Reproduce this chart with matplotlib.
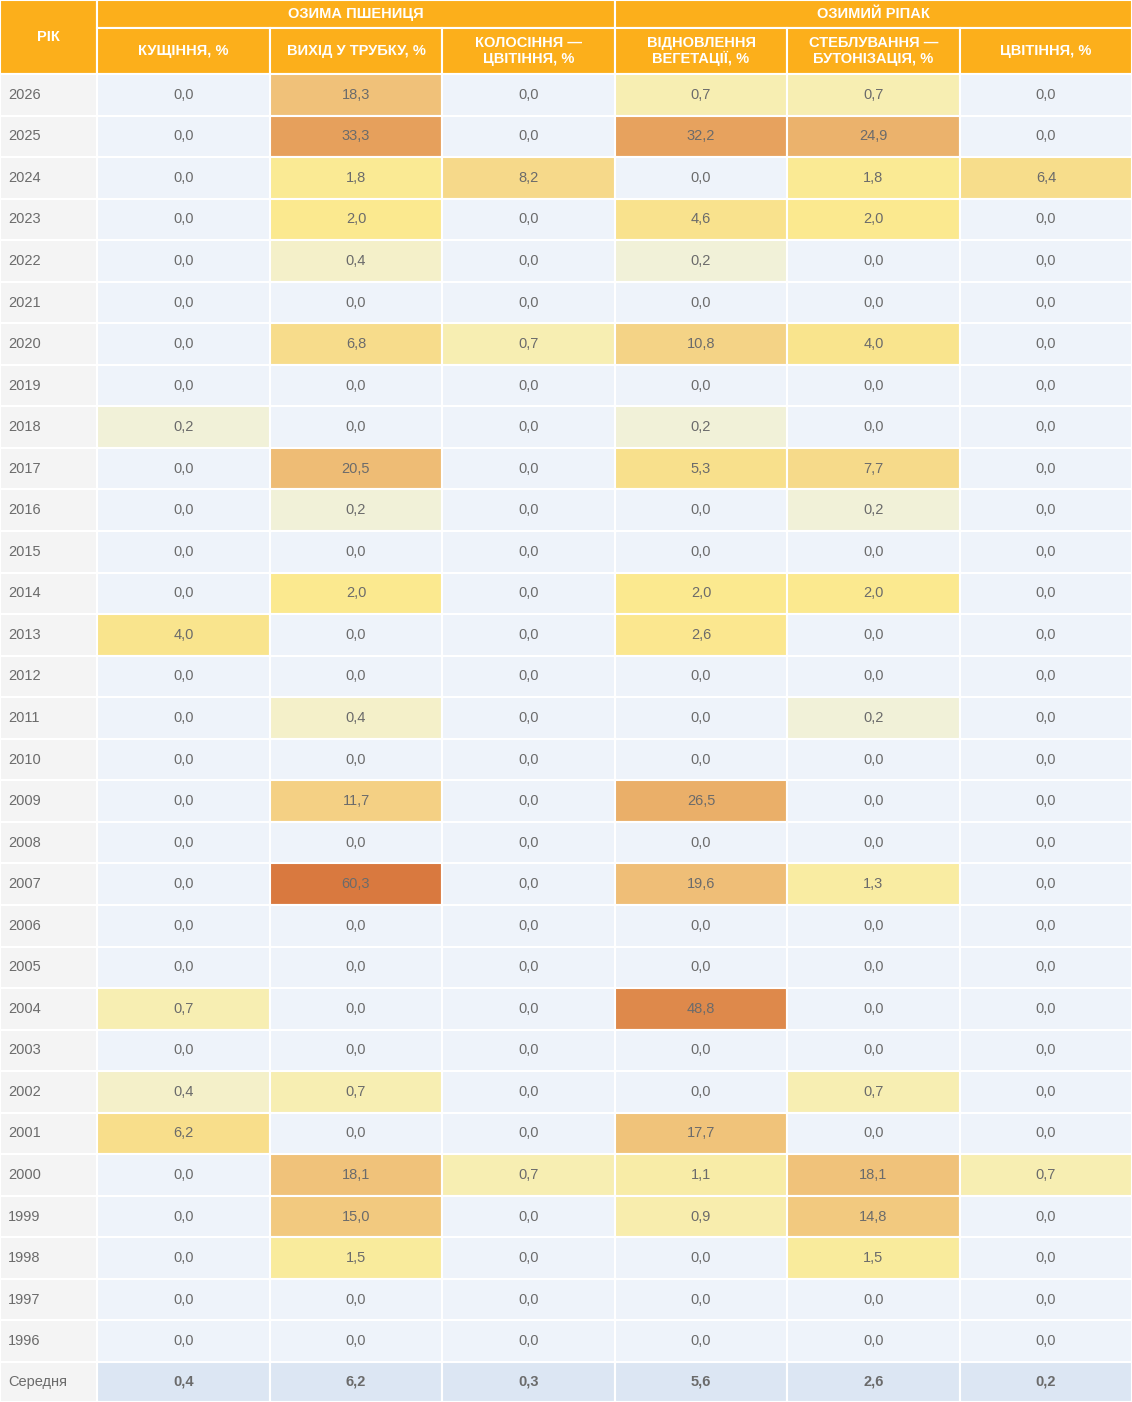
import matplotlib
matplotlib.use("Agg")
import matplotlib.pyplot as plt
from matplotlib.patches import Rectangle
from matplotlib.colors import to_rgb
import numpy as np

plt.rcParams['font.family'] = ['Liberation Sans', 'DejaVu Sans']

years = list(range(2026, 1995, -1))
groups = ["ОЗИМА ПШЕНИЦЯ", "ОЗИМИЙ РІПАК"]
headers = ["КУЩІННЯ, %", "ВИХІД У ТРУБКУ, %", "КОЛОСІННЯ —\nЦВІТІННЯ, %",
           "ВІДНОВЛЕННЯ\nВЕГЕТАЦІЇ, %", "СТЕБЛУВАННЯ —\nБУТОНІЗАЦІЯ, %", "ЦВІТІННЯ, %"]

wheat_tillering = [0, 0, 0, 0, 0, 0, 0, 0, 0.2, 0, 0, 0, 0, 4.0, 0, 0, 0, 0, 0, 0, 0, 0, 0.7, 0, 0.4, 6.2, 0, 0, 0, 0, 0]
wheat_booting = [18.3, 33.3, 1.8, 2.0, 0.4, 0, 6.8, 0, 0, 20.5, 0.2, 0, 2.0, 0, 0, 0.4, 0, 11.7, 0, 60.3, 0, 0, 0, 0, 0.7, 0, 18.1, 15.0, 1.5, 0, 0]
wheat_heading = [0, 0, 8.2, 0, 0, 0, 0.7, 0, 0, 0, 0, 0, 0, 0, 0, 0, 0, 0, 0, 0, 0, 0, 0, 0, 0, 0, 0.7, 0, 0, 0, 0]
rape_regrowth = [0.7, 32.2, 0, 4.6, 0.2, 0, 10.8, 0, 0.2, 5.3, 0, 0, 2.0, 2.6, 0, 0, 0, 26.5, 0, 19.6, 0, 0, 48.8, 0, 0, 17.7, 1.1, 0.9, 0, 0, 0]
rape_stem = [0.7, 24.9, 1.8, 2.0, 0, 0, 4.0, 0, 0, 7.7, 0.2, 0, 2.0, 0, 0, 0.2, 0, 0, 0, 1.3, 0, 0, 0, 0, 0.7, 0, 18.1, 14.8, 1.5, 0, 0]
rape_flowering = [0, 0, 6.4, 0, 0, 0, 0, 0, 0, 0, 0, 0, 0, 0, 0, 0, 0, 0, 0, 0, 0, 0, 0, 0, 0, 0, 0.7, 0, 0, 0, 0]
averages = [0.4, 6.2, 0.3, 5.6, 2.6, 0.2]

columns = [wheat_tillering, wheat_booting, wheat_heading, rape_regrowth, rape_stem, rape_flowering]

# colour scale
nodes = [0.1, 0.7, 2.0, 8.0, 18.0, 33.0, 60.0]
node_cols = [to_rgb(c) for c in ["#F0F2E0", "#F7EEB2", "#FBE98F", "#F6D98A", "#F0C27A", "#E6A05C", "#D9793F"]]
node_cols = np.array(node_cols)

def heat(v):
    if v == 0:
        return "#EEF3FA"
    return tuple(np.interp(v, nodes, node_cols[:, k]) for k in range(3))

W, H = 1132, 1402
fig = plt.figure(figsize=(W / 100, H / 100), dpi=100)
ax = fig.add_axes([0, 0, 1, 1])
ax.set_xlim(0, W)
ax.set_ylim(H, 0)
ax.axis('off')

xe = [0, 97, 270, 442, 615, 787, 960, 1132]
orange = "#FCAF1B"
txt = "#6B6B6B"
top = 74
rh = (1362 - top) / len(years)

def cell(x0, x1, y0, y1, color):
    ax.add_patch(Rectangle((x0, y0), x1 - x0, y1 - y0, facecolor=color, edgecolor="white", lw=1.5))

# header
cell(0, xe[1], 0, top, orange)
ax.text(xe[1] / 2, top / 2, "РІК", color="white", fontsize=10.5, fontweight="bold", ha="center", va="center")
for g, name in enumerate(groups):
    x0, x1 = xe[1 + 3 * g], xe[4 + 3 * g]
    cell(x0, x1, 0, 28, orange)
    ax.text((x0 + x1) / 2, 14, name, color="white", fontsize=10.5, fontweight="bold", ha="center", va="center")
for j, h in enumerate(headers):
    cell(xe[j + 1], xe[j + 2], 28, top, orange)
    ax.text((xe[j + 1] + xe[j + 2]) / 2, 51, h, color="white", fontsize=10.5, fontweight="bold",
            ha="center", va="center", linespacing=1.1)

# body
for i, y in enumerate(years):
    y0 = top + i * rh
    cell(0, xe[1], y0, y0 + rh, "#F4F4F4")
    ax.text(8, y0 + rh / 2, str(y), color=txt, fontsize=10.5, ha="left", va="center")
    for j, col in enumerate(columns):
        v = col[i]
        cell(xe[j + 1], xe[j + 2], y0, y0 + rh, heat(v))
        ax.text((xe[j + 1] + xe[j + 2]) / 2, y0 + rh / 2, f"{v:.1f}".replace(".", ","),
                color=txt, fontsize=10.5, ha="center", va="center")

# average row
y0 = 1362
cell(0, xe[1], y0, H, "#F4F4F4")
ax.text(8, y0 + 20, "Середня", color=txt, fontsize=10.5, ha="left", va="center")
for j, v in enumerate(averages):
    cell(xe[j + 1], xe[j + 2], y0, H, "#DCE6F3")
    ax.text((xe[j + 1] + xe[j + 2]) / 2, y0 + 20, f"{v:.1f}".replace(".", ","),
            color=txt, fontsize=10.5, fontweight="bold", ha="center", va="center")

fig.savefig("out.png", dpi=100)
